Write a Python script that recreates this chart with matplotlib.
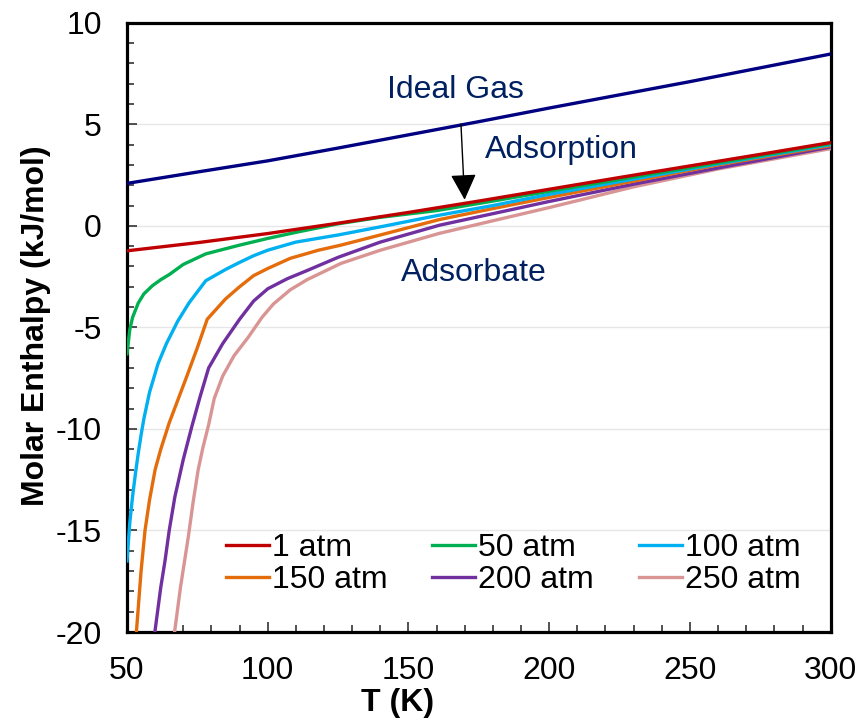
import numpy as np
import matplotlib.pyplot as plt
from matplotlib.ticker import MultipleLocator

plt.rcParams['font.family'] = ['Liberation Sans', 'DejaVu Sans']
plt.rcParams['axes.unicode_minus'] = False

# ideal gas and 1 atm
t_ideal = [50, 75, 100, 125, 150, 175, 200, 225, 250, 275, 300]
h_ideal = [2.09, 2.65, 3.2, 3.83, 4.48, 5.13, 5.8, 6.45, 7.1, 7.78, 8.46]

t_1 = [50, 75, 100, 125, 150, 175, 200, 225, 250, 275, 300]
h_1 = [-1.23, -0.83, -0.38, 0.13, 0.66, 1.22, 1.8, 2.38, 2.95, 3.52, 4.1]

t_50 = [50, 51, 52, 54, 56, 59, 62, 65, 70, 78, 90, 100, 110, 125, 140, 160, 180, 200, 230, 260, 300]
h_50 = [-6.3, -5.1, -4.5, -3.8, -3.35, -2.95, -2.65, -2.4, -1.9, -1.38, -0.95, -0.62, -0.32, 0.1, 0.42, 0.75, 1.22, 1.7, 2.4, 3.1, 4.05]

t_100 = [50, 51, 52, 53, 54, 55, 56, 58, 61, 64, 68, 72, 78, 85, 90, 95, 100, 110, 125, 140, 160, 180, 200, 230, 260, 300]
h_100 = [-16.5, -14.6, -13.3, -12.2, -11.2, -10.3, -9.5, -8.2, -6.8, -5.8, -4.7, -3.8, -2.7, -2.15, -1.8, -1.47, -1.2, -0.8, -0.45, -0.05, 0.5, 1.0, 1.55, 2.3, 3.05, 4.0]

t_150 = [52.5, 53.4, 55, 56.4, 58, 60, 62, 65, 68, 71, 75, 78.5, 85, 90, 95, 100, 108, 118, 126, 140, 161, 180, 200, 230, 260, 300]
h_150 = [-22, -19.9, -17.0, -15.0, -13.5, -12.0, -11.0, -9.7, -8.6, -7.5, -6.0, -4.6, -3.6, -3.0, -2.45, -2.1, -1.6, -1.2, -0.95, -0.45, 0.31, 0.85, 1.4, 2.2, 3.0, 3.95]

t_200 = [59, 60, 62, 63.5, 65, 67, 70, 73, 76, 79, 84, 90, 95, 100, 107, 114, 125, 140, 161, 180, 200, 230, 260, 300]
h_200 = [-21, -19.9, -17.8, -16.5, -15.0, -13.35, -11.5, -9.9, -8.4, -7.0, -5.8, -4.6, -3.7, -3.1, -2.6, -2.2, -1.55, -0.8, 0.03, 0.6, 1.2, 2.05, 2.85, 3.88]

t_250 = [66, 67, 69, 71.8, 73.5, 75.3, 77, 79, 81, 84, 88, 93, 98, 102, 108, 114, 120, 126, 140, 161, 180, 200, 230, 260, 300]
h_250 = [-21, -19.9, -17.8, -15.3, -13.6, -12.0, -10.9, -9.8, -8.5, -7.4, -6.4, -5.5, -4.5, -3.85, -3.15, -2.65, -2.25, -1.85, -1.2, -0.37, 0.25, 0.9, 1.92, 2.8, 3.8]

series = [
    ("1 atm", t_1, h_1, "#C00000"),
    ("50 atm", t_50, h_50, "#00B050"),
    ("100 atm", t_100, h_100, "#00B0F0"),
    ("150 atm", t_150, h_150, "#E46C0A"),
    ("200 atm", t_200, h_200, "#7030A0"),
    ("250 atm", t_250, h_250, "#D99594"),
]

fig = plt.figure(figsize=(8.68, 7.24), dpi=100)
ax = fig.add_axes([0.1463, 0.127, 0.8107, 0.8416])

ax.plot(t_ideal, h_ideal, color="#000080", lw=2.4, zorder=3)
lines = {}
for name, t, h, c in reversed(series):
    lines[name] = ax.plot(t, h, color=c, lw=2.4, label=name, zorder=3)[0]

ax.set_xlim(50, 300)
ax.set_ylim(-20, 10)
ax.xaxis.set_major_locator(MultipleLocator(50))
ax.xaxis.set_minor_locator(MultipleLocator(10))
ax.yaxis.set_major_locator(MultipleLocator(5))
ax.yaxis.set_minor_locator(MultipleLocator(1))
ax.yaxis.grid(True, color="#e6e6e6", lw=1)
ax.set_axisbelow(True)

for s in ax.spines.values():
    s.set_linewidth(2.3)
ax.tick_params(which="both", direction="in", width=1.2, color="#333333", labelsize=23)
ax.tick_params(which="major", length=7)
ax.tick_params(which="minor", length=5)
ax.tick_params(axis="y", pad=18)
ax.tick_params(axis="x", pad=17)

ax.set_xlabel("T (K)", fontsize=23, fontweight="bold")
ax.set_ylabel("Molar Enthalpy (kJ/mol)", fontsize=23, fontweight="bold")
ax.xaxis.set_label_coords(0.385, -0.092)
ax.yaxis.set_label_coords(-0.108, 0.503)

navy = "#002060"
ax.text(166.8, 6.68, "Ideal Gas", color=navy, fontsize=23, ha="center", va="center")
ax.text(204.5, 3.73, "Adsorption", color=navy, fontsize=23, ha="center", va="center")
ax.text(173.2, -2.33, "Adsorbate", color=navy, fontsize=23, ha="center", va="center")
ax.annotate("", xy=(170, 1.15), xytext=(168.6, 5.15),
            arrowprops=dict(arrowstyle="-|>", color="black", lw=1, mutation_scale=40),
            zorder=5)

order = ["1 atm", "150 atm", "50 atm", "200 atm", "100 atm", "250 atm"]
ax.legend([lines[n] for n in order], order, ncol=3, loc="upper left",
          bbox_to_anchor=(0.14, 0.162), frameon=False, fontsize=23,
          handlelength=1.35, handletextpad=0.1, columnspacing=1.4,
          borderpad=0, borderaxespad=0, labelspacing=0.05)

fig.savefig("out.png", dpi=100)
